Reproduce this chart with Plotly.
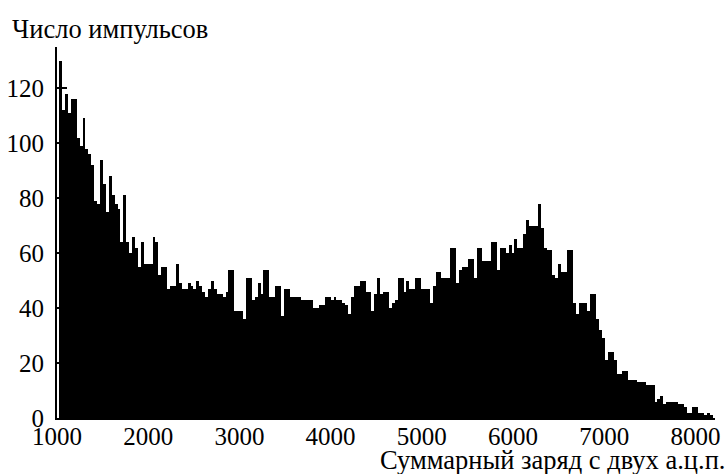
import plotly.graph_objects as go

# Histogram: bins of 32 channels starting at 1024
bin_start = 1024
bin_width = 32
counts = [
    130, 112, 118, 111, 116, 116, 102, 99, 109, 98,
    96, 92, 79, 78, 94, 85, 75, 88, 81, 78,
    76, 64, 81, 64, 60, 66, 62, 55, 64, 56,
    56, 56, 66, 64, 52, 55, 55, 47, 48, 48,
    56, 49, 47, 47, 49, 48, 47, 50, 48, 46,
    44, 47, 50, 47, 45, 45, 44, 46, 54, 54,
    39, 39, 39, 36, 51, 51, 43, 44, 49, 45,
    54, 54, 44, 44, 48, 48, 37, 47, 47, 44,
    44, 44, 44, 43, 43, 43, 43, 40, 40, 41,
    41, 44, 44, 43, 44, 43, 43, 42, 41, 38,
    44, 48, 48, 50, 50, 46, 46, 39, 45, 51,
    45, 46, 46, 40, 42, 43, 51, 51, 46, 50,
    47, 47, 51, 51, 47, 47, 47, 42, 48, 53,
    53, 51, 51, 51, 62, 62, 49, 54, 55, 55,
    58, 58, 51, 62, 62, 57, 57, 57, 64, 64,
    54, 62, 62, 60, 63, 60, 65, 62, 62, 67,
    72, 70, 70, 70, 78, 69, 62, 61, 61, 52,
    51, 56, 53, 53, 61, 61, 42, 38, 42, 42,
    42, 39, 45, 45, 36, 32, 29, 21, 24, 24,
    21, 16, 16, 17, 17, 14, 14, 14, 13, 13,
    13, 12, 12, 12, 6, 7, 8, 5, 6, 6,
    6, 6, 5, 5, 4, 2, 2, 4, 4, 2,
    2, 1, 2, 1,
]
bin_centers = [bin_start + bin_width * (i + 0.5) for i in range(len(counts))]

x_ticks = [1000, 2000, 3000, 4000, 5000, 6000, 7000, 8000]
y_ticks = [0, 20, 40, 60, 80, 100, 120]
y_title = "Число импульсов"
x_title = "Суммарный заряд с двух а.ц.п."

FONT = "Liberation Serif, Times New Roman, serif"
TICK_FS = 25
TITLE_FS = 26.5

fig = go.Figure()
fig.add_trace(go.Bar(
    x=bin_centers, y=counts, width=bin_width,
    marker=dict(color="black", line=dict(width=0)),
    showlegend=False,
))

fig.update_layout(
    width=725, height=474,
    margin=dict(l=57, r=10, t=47, b=56, pad=0),
    paper_bgcolor="white", plot_bgcolor="white",
    bargap=0,
    font=dict(family=FONT, size=TICK_FS, color="black"),
    xaxis=dict(
        range=[1000, 8215], tickvals=x_ticks,
        showline=True, linecolor="black", linewidth=2,
        ticks="inside", ticklen=8, tickwidth=2, tickcolor="black",
        showgrid=False, zeroline=False, automargin=False,
        ticklabelstandoff=-5,
        tickfont=dict(family=FONT, size=TICK_FS, color="black"),
    ),
    yaxis=dict(
        range=[0, 135], tickvals=y_ticks,
        showline=True, linecolor="black", linewidth=2,
        ticks="inside", ticklen=10, tickwidth=2, tickcolor="black",
        showgrid=False, zeroline=False, automargin=False,
        ticklabelstandoff=6,
        tickfont=dict(family=FONT, size=TICK_FS, color="black"),
    ),
    annotations=[
        dict(text=y_title, xref="paper", yref="paper", x=0, y=1,
             xanchor="left", yanchor="middle", xshift=-47, yshift=18,
             showarrow=False, font=dict(family=FONT, size=TITLE_FS, color="black")),
        dict(text=x_title, xref="paper", yref="paper", x=1, y=0,
             xanchor="right", yanchor="middle", xshift=12, yshift=-42,
             showarrow=False, font=dict(family=FONT, size=TITLE_FS, color="black")),
    ],
)

fig.write_html("out.html")
